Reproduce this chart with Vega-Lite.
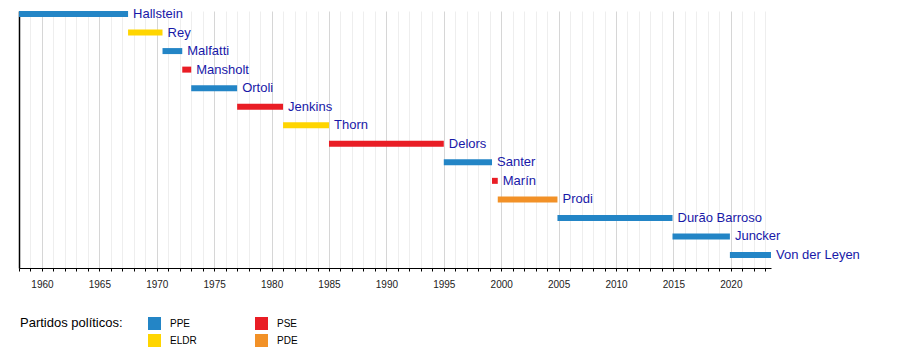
{
  "$schema": "https://vega.github.io/schema/vega-lite/v6.json",
  "autosize": {"type": "none"},
  "width": 752,
  "height": 257,
  "padding": {"left": 19, "top": 11, "right": 129, "bottom": 82},
  "config": {
    "view": {"stroke": null},
    "font": "Liberation Sans",
    "axisX": {
      "title": null,
      "format": "d",
      "labelExpr": "datum.value % 5 === 0 ? datum.label : ''",
      "labelFontSize": 10,
      "labelColor": "#222222",
      "labelPadding": 8,
      "labelOverlap": false,
      "labelFlush": false,
      "tickSize": 3,
      "tickColor": "#000000",
      "domainColor": "#000000",
      "grid": true,
      "gridColor": {"condition": {"test": "datum.value % 5 === 0", "value": "#d6d6d6"}, "value": "#eeeeee"},
      "gridWidth": 1
    }
  },
  "data": {
    "values": [
      {"nombre": "Hallstein", "inicio": 1958.0, "fin": 1967.5, "partido": "PPE"},
      {"nombre": "Rey", "inicio": 1967.5, "fin": 1970.5, "partido": "ELDR"},
      {"nombre": "Malfatti", "inicio": 1970.5, "fin": 1972.22, "partido": "PPE"},
      {"nombre": "Mansholt", "inicio": 1972.22, "fin": 1973.0, "partido": "PSE"},
      {"nombre": "Ortoli", "inicio": 1973.0, "fin": 1977.0, "partido": "PPE"},
      {"nombre": "Jenkins", "inicio": 1977.0, "fin": 1981.0, "partido": "PSE"},
      {"nombre": "Thorn", "inicio": 1981.0, "fin": 1985.0, "partido": "ELDR"},
      {"nombre": "Delors", "inicio": 1985.0, "fin": 1995.0, "partido": "PSE"},
      {"nombre": "Santer", "inicio": 1995.0, "fin": 1999.2, "partido": "PPE"},
      {"nombre": "Marín", "inicio": 1999.2, "fin": 1999.7, "partido": "PSE"},
      {"nombre": "Prodi", "inicio": 1999.7, "fin": 2004.9, "partido": "PDE"},
      {"nombre": "Durão Barroso", "inicio": 2004.9, "fin": 2014.92, "partido": "PPE"},
      {"nombre": "Juncker", "inicio": 2014.92, "fin": 2019.92, "partido": "PPE"},
      {"nombre": "Von der Leyen", "inicio": 2019.92, "fin": 2023.5, "partido": "PPE"}
    ]
  },
  "encoding": {
    "y": {
      "field": "nombre",
      "type": "nominal",
      "sort": null,
      "scale": {"type": "point", "padding": 0.4315, "align": 0.1875},
      "axis": {"title": null, "labels": false, "ticks": false, "grid": false, "domainColor": "#000000", "domainWidth": 1.5}
    }
  },
  "layer": [
    {
      "mark": {"type": "bar", "size": 6},
      "encoding": {
        "x": {
          "field": "inicio",
          "type": "quantitative",
          "scale": {"domain": [1958, 2023.5], "nice": false, "zero": false},
          "axis": {
            "values": [1958,1959,1960,1961,1962,1963,1964,1965,1966,1967,1968,1969,1970,1971,1972,1973,1974,1975,1976,1977,1978,1979,1980,1981,1982,1983,1984,1985,1986,1987,1988,1989,1990,1991,1992,1993,1994,1995,1996,1997,1998,1999,2000,2001,2002,2003,2004,2005,2006,2007,2008,2009,2010,2011,2012,2013,2014,2015,2016,2017,2018,2019,2020,2021,2022,2023]
          }
        },
        "x2": {"field": "fin"},
        "color": {
          "field": "partido",
          "type": "nominal",
          "scale": {"domain": ["PPE", "PSE", "ELDR", "PDE"], "range": ["#2385c6", "#e91d25", "#ffd500", "#f29127"]},
          "legend": {
            "title": "Partidos políticos:",
            "orient": "none",
            "legendX": 1,
            "legendY": 306,
            "direction": "horizontal",
            "columns": 2,
            "columnPadding": 58,
            "rowPadding": 4,
            "symbolType": "square",
            "symbolSize": 169,
            "symbolStrokeWidth": 0,
            "symbolOpacity": 1,
            "labelFontSize": 10,
            "labelColor": "#000000",
            "labelOffset": 9,
            "titleOrient": "left",
            "titleAnchor": "start",
            "titleFontSize": 13,
            "titleFontWeight": "normal",
            "titleColor": "#000000",
            "titlePadding": 25,
            "titleBaseline": "top"
          }
        }
      }
    },
    {
      "mark": {"type": "text", "align": "left", "baseline": "middle", "dx": 5, "fontSize": 13, "color": "#1818a8"},
      "encoding": {
        "x": {
          "field": "fin",
          "type": "quantitative",
          "axis": {
            "values": [1958,1959,1960,1961,1962,1963,1964,1965,1966,1967,1968,1969,1970,1971,1972,1973,1974,1975,1976,1977,1978,1979,1980,1981,1982,1983,1984,1985,1986,1987,1988,1989,1990,1991,1992,1993,1994,1995,1996,1997,1998,1999,2000,2001,2002,2003,2004,2005,2006,2007,2008,2009,2010,2011,2012,2013,2014,2015,2016,2017,2018,2019,2020,2021,2022,2023]
          }
        },
        "text": {"field": "nombre"}
      }
    }
  ]
}
